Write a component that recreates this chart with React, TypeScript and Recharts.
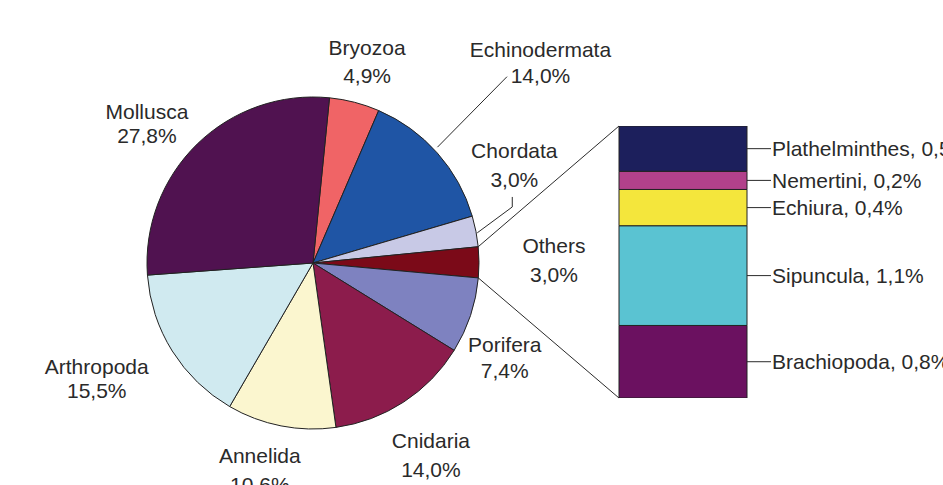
import { PieChart, Pie, Cell, BarChart, Bar, XAxis, YAxis } from 'recharts';

// main pie: share of species per phylum (%)
const phyla = ['Bryozoa', 'Echinodermata', 'Chordata', 'Others', 'Porifera', 'Cnidaria', 'Annelida', 'Arthropoda', 'Mollusca'];
const shares = [4.9, 14.0, 3.0, 3.0, 7.4, 14.0, 10.6, 15.5, 27.8];
const sliceColors = ['#f06466', '#1f55a5', '#c8c9e6', '#7b0a18', '#7e82c0', '#8c1c4c', '#fbf6cf', '#d0eaf0', '#501250'];

// breakdown of "Others", bottom to top
const otherGroups = ['Brachiopoda', 'Sipuncula', 'Echiura', 'Nemertini', 'Plathelminthes'];
const otherShares = [0.8, 1.1, 0.4, 0.2, 0.5];
const otherColors = ['#6b1160', '#5ac3d2', '#f4e63c', '#b2418b', '#1c1f5c'];

const W = 943;
const H = 485;
const PIE_CX = 313;
const PIE_CY = 263;
const PIE_R = 166;
const BAR_LEFT = 619;
const BAR_RIGHT = 747;
const BAR_TOP = 126;
const BAR_BOTTOM = 398;
const FONT = '"Liberation Sans", Arial, Helvetica, sans-serif';
const INK = '#2a2a2a';
const FS = 21;

// label spots around the pie: radius and clockwise shift from the slice middle
const labelPlacement = [
  { r: 209, dA: 0.5, gap: 28 },
  { r: 303, dA: 0.2, gap: 26 },
  { r: 224, dA: -15, gap: 29 },
  { r: 241, dA: -0.5, gap: 29 },
  { r: 214, dA: 7.9, gap: 26 },
  { r: 225, dA: 1.5, gap: 29 },
  { r: 214, dA: 3.3, gap: 29 },
  { r: 245, dA: 4, gap: 24 },
  { r: 217, dA: -5.7, gap: 24 },
];

const pieData = phyla.map((phylum, i) => ({ phylum, share: shares[i] }));
const barRow: Record<string, string | number> = { group: 'Others' };
otherGroups.forEach((g, i) => { barRow[g] = otherShares[i]; });
const barData = [barRow];

const RAD = Math.PI / 180;
const polar = (r: number, ang: number) => [PIE_CX + r * Math.cos(ang * RAD), PIE_CY - r * Math.sin(ang * RAD)];
const pct = (v: number) => `${v.toFixed(1).replace('.', ',')}%`;

const renderPieLabel = (props: any) => {
  const { midAngle, index, startAngle, endAngle } = props;
  const p = labelPlacement[index];
  const [x, y] = polar(p.r, midAngle - p.dA);
  const extra: JSX.Element[] = [];
  if (phyla[index] === 'Echinodermata') {
    const [x1, y1] = polar(PIE_R + 4, midAngle + 1.4);
    const [x2, y2] = polar(269, midAngle + 2.3);
    extra.push(<line key="l" x1={x1} y1={y1} x2={x2} y2={y2} stroke={INK} strokeWidth={1} />);
  }
  if (phyla[index] === 'Chordata') {
    const [x1, y1] = polar(PIE_R + 1, midAngle - 0.6);
    const [x2, y2] = polar(207, midAngle + 4.7);
    extra.push(<polyline key="l" points={`${x1},${y1} ${x2},${y2} ${x2},${y2 - 10}`} fill="none" stroke={INK} strokeWidth={1} />);
  }
  if (phyla[index] === 'Others') {
    const [ax, ay] = polar(PIE_R, startAngle);
    const [bx, by] = polar(PIE_R, endAngle);
    extra.push(<line key="t" x1={ax} y1={ay} x2={BAR_LEFT} y2={BAR_TOP} stroke={INK} strokeWidth={1} />);
    extra.push(<line key="b" x1={bx} y1={by} x2={BAR_LEFT} y2={BAR_BOTTOM} stroke={INK} strokeWidth={1} />);
  }
  return (
    <g key={`lbl-${index}`}>
      {extra}
      <text x={x} y={y - p.gap / 2} textAnchor="middle" dominantBaseline="central" fontSize={FS} fontFamily={FONT} fill={INK}>
        {phyla[index]}
      </text>
      <text x={x} y={y + p.gap / 2} textAnchor="middle" dominantBaseline="central" fontSize={FS} fontFamily={FONT} fill={INK}>
        {pct(shares[index])}
      </text>
    </g>
  );
};

const barLabel = (i: number) => (props: any) => {
  const { x, y, width, height } = props;
  const xr = Number(x) + Number(width);
  const ym = Number(y) + Number(height) / 2;
  return (
    <g>
      <line x1={xr} y1={ym} x2={xr + 24} y2={ym} stroke={INK} strokeWidth={1} />
      <text x={xr + 25} y={ym} dominantBaseline="central" fontSize={FS} fontFamily={FONT} fill={INK}>
        {`${otherGroups[i]}, ${pct(otherShares[i])}`}
      </text>
    </g>
  );
};

export default function App() {
  return (
    <div style={{ position: 'absolute', left: 0, top: 0, width: W, height: H, background: '#fff', overflow: 'hidden' }}>
      <div style={{ position: 'absolute', left: 0, top: 0 }}>
        <PieChart width={W} height={H} margin={{ top: 0, right: 0, bottom: 0, left: 0 }}>
          <Pie
            data={pieData}
            dataKey="share"
            nameKey="phylum"
            cx={PIE_CX}
            cy={PIE_CY}
            outerRadius={PIE_R}
            startAngle={84.3}
            endAngle={-275.7}
            stroke="#222"
            strokeWidth={1}
            label={renderPieLabel}
            labelLine={false}
            isAnimationActive={false}
          >
            {pieData.map((d, i) => (
              <Cell key={d.phylum} fill={sliceColors[i]} />
            ))}
          </Pie>
        </PieChart>
      </div>
      <div style={{ position: 'absolute', left: 0, top: 0 }}>
        <BarChart
          width={W}
          height={H}
          data={barData}
          barCategoryGap={0}
          margin={{ top: BAR_TOP, bottom: H - BAR_BOTTOM, left: BAR_LEFT, right: W - BAR_RIGHT }}
        >
          <XAxis dataKey="group" hide />
          <YAxis hide domain={[0, 3]} allowDataOverflow />
          {otherGroups.map((g, i) => (
            <Bar
              key={g}
              dataKey={g}
              stackId="others"
              fill={otherColors[i]}
              stroke="#222"
              strokeWidth={1}
              label={barLabel(i)}
              isAnimationActive={false}
            />
          ))}
        </BarChart>
      </div>
    </div>
  );
}
